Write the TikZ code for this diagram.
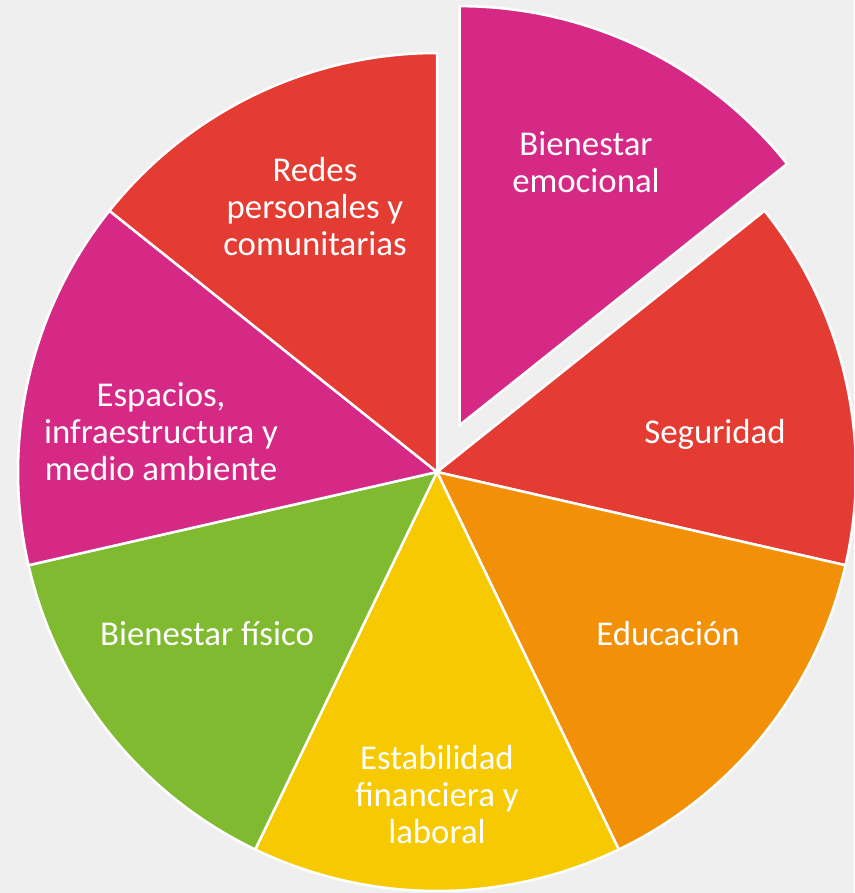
\documentclass[tikz,border=0pt]{standalone}
\usepackage{fontspec}
\setmainfont{Carlito}
\definecolor{bgc}{HTML}{EFEFEF}
\definecolor{cmag}{HTML}{D62885}
\definecolor{cred}{HTML}{E43B33}
\definecolor{corg}{HTML}{F29108}
\definecolor{cyel}{HTML}{F6C900}
\definecolor{cgrn}{HTML}{80BA30}
\begin{document}
\begin{tikzpicture}[x=1pt,y=1pt,
  slice/.style={draw=white,line width=2.5pt,line join=miter},
  lbl/.style={text=white,align=center,font=\fontsize{34.8}{37}\selectfont}]
\useasboundingbox (-437,-421) rectangle (417,472);
\clip (-437,-421) rectangle (417,472);
\fill[bgc] (-437,-421) rectangle (417,472);
\def\R{419}
\coordinate (c) at (0,0);
\coordinate (ce) at (64.2857:52);
\fill[cmag,slice] (ce) -- ++(38.5714:\R) arc[start angle=38.5714,end angle=90,radius=\R] -- cycle;
\fill[cred,slice] (c) -- (-12.8571:\R) arc[start angle=-12.8571,end angle=38.5714,radius=\R] -- cycle;
\fill[corg,slice] (c) -- (-64.2857:\R) arc[start angle=-64.2857,end angle=-12.8571,radius=\R] -- cycle;
\fill[cyel,slice] (c) -- (-115.7143:\R) arc[start angle=-115.7143,end angle=-64.2857,radius=\R] -- cycle;
\fill[cgrn,slice] (c) -- (-167.1429:\R) arc[start angle=-167.1429,end angle=-115.7143,radius=\R] -- cycle;
\fill[cmag,slice] (c) -- (141.4286:\R) arc[start angle=141.4286,end angle=192.8571,radius=\R] -- cycle;
\fill[cred,slice] (c) -- (90:\R) arc[start angle=90,end angle=141.4286,radius=\R] -- cycle;
\node[lbl] (emo) at (149,310) {Bienestar\\emocional};
\node[lbl] (seg) at (278,38) {Seguridad};
\node[lbl] (edu) at (231,-162) {Educación};
\node[lbl] (est) at (0,-323) {Estabilidad\\financiera y\\laboral};
\node[lbl] (fis) at (-230,-162) {Bienestar físico};
\node[lbl] (esp) at (-276,40) {Espacios,\\infraestructura y\\medio ambiente};
\node[lbl] (red) at (-122,265) {Redes\\personales y\\comunitarias};
\end{tikzpicture}
\end{document}
